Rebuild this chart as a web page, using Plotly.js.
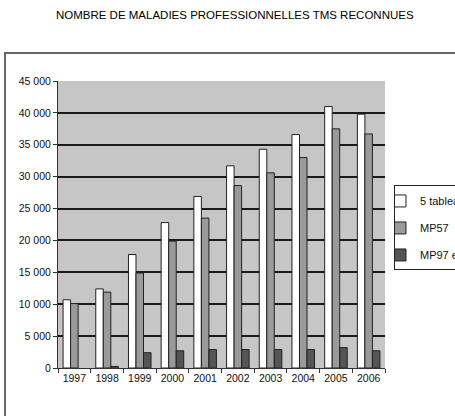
<!DOCTYPE html>
<html>
<head>
<meta charset="utf-8">
<script src="https://cdn.plot.ly/plotly-3.0.1.min.js"></script>
<style>html,body{margin:0;padding:0;background:#fff;}#chart{width:455px;height:416px;}</style>
</head>
<body>
<div id="chart"></div>
<script>
var years = ['1997','1998','1999','2000','2001','2002','2003','2004','2005','2006'];
var tableaux5 = [10700, 12400, 17800, 22800, 26900, 31700, 34300, 36600, 41000, 39800];
var mp57 = [10100, 11900, 14900, 19900, 23500, 28600, 30600, 33000, 37500, 36700];
var mp97_98 = [null, 250, 2400, 2700, 2900, 2900, 2900, 2900, 3200, 2700];
var seriesNames = ['5 tableaux', 'MP57', 'MP97 et 98'];
var chartTitle = 'NOMBRE DE MALADIES PROFESSIONNELLES TMS RECONNUES';

var FONT = 'Liberation Sans, Arial, sans-serif';

var traces = [
  {type:'bar', x:years, y:tableaux5, name:seriesNames[0], legendgroup:'a',
   marker:{color:'#ffffff', line:{color:'#222', width:1}}},
  {type:'bar', x:years, y:mp57, name:seriesNames[1], legendgroup:'b',
   marker:{color:'#9a9a9a', line:{color:'#222', width:1}}},
  {type:'bar', x:years, y:mp97_98, name:seriesNames[2], legendgroup:'c',
   marker:{color:'#555555', line:{color:'#222', width:1}}}
];

var layout = {
  width:455, height:416,
  margin:{l:58, r:70, t:81, b:48, autoexpand:false},
  paper_bgcolor:'#ffffff',
  plot_bgcolor:'#c6c6c6',
  separators:', ',
  font:{family:FONT, size:11, color:'#111'},
  title:{text:chartTitle, font:{family:FONT, size:11.5, color:'#000'},
         x:0.516, xref:'container', xanchor:'center', y:0.964, yref:'container', yanchor:'middle'},
  barmode:'group', bargap:0.31, bargroupgap:0,
  showlegend:true,
  legend:{x:1.0275, y:0.636, xanchor:'left', yanchor:'top', bgcolor:'#ffffff',
          bordercolor:'#222', borderwidth:1, font:{family:FONT, size:11, color:'#111'},
          tracegroupgap:8, traceorder:'grouped', itemwidth:30, indentation:-15},
  xaxis:{type:'category', tickson:'boundaries', ticks:'outside', ticklen:4, tickcolor:'#333',
         tickangle:0, showline:true, linecolor:'#333', linewidth:1, showgrid:false,
         tickfont:{family:FONT, size:10.5, color:'#111'}},
  yaxis:{range:[0,45000], dtick:5000, tickformat:',d', ticks:'outside', ticklen:4, tickcolor:'#333',
         showline:true, linecolor:'#333', linewidth:1, showgrid:true, gridcolor:'#1a1a1a', gridwidth:2,
         zeroline:false, tickfont:{family:FONT, size:10.5, color:'#111'}},
  shapes:[
    {type:'rect', xref:'paper', yref:'paper', x0:-0.162, x1:1.5, y0:-0.5, y1:1.0976,
     line:{color:'#666', width:2}, fillcolor:'rgba(0,0,0,0)', layer:'below'}
  ]
};

Plotly.newPlot('chart', traces, layout, {staticPlot:true, displayModeBar:false});
</script>
</body>
</html>
